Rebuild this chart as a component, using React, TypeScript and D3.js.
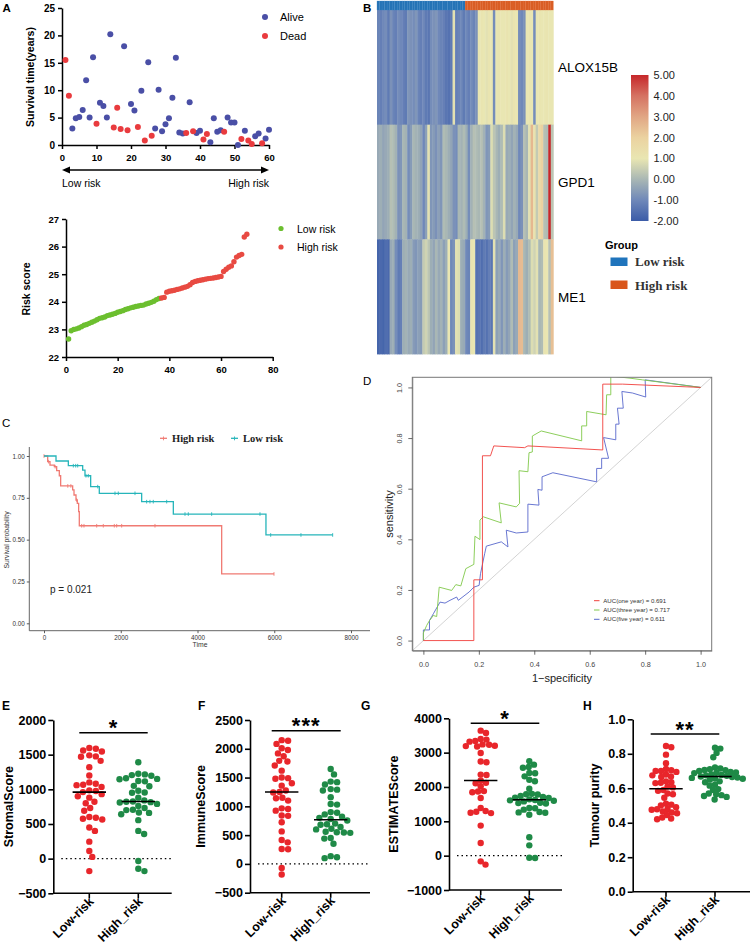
import React, { useEffect, useRef } from 'react';
import * as d3 from 'd3';

const SANS = "'Liberation Sans', Arial, Helvetica, sans-serif";
const SERIF = "'Liberation Serif', 'Times New Roman', serif";

// ---------- A (top): survival status by patient rank
const aliveIdx = [3, 4, 5, 6, 7, 8, 9, 11, 12, 13, 14, 18, 20, 21, 23, 25, 27, 28, 29, 30, 31, 32, 33, 34, 35, 37, 39, 40, 43, 44, 45, 46, 48, 49, 50, 51, 53, 56, 57, 59, 60];
const aliveYears = [3.0, 4.9, 5.1, 6.4, 11.8, 5.0, 16.0, 7.7, 7.1, 5.0, 20.2, 18.0, 7.5, 6.3, 9.9, 15.1, 3.0, 10.1, 2.5, 3.8, 4.9, 8.6, 15.9, 2.3, 2.1, 7.8, 2.2, 2.6, 0.5, 4.9, 2.4, 2.7, 5.0, 4.1, 4.1, 0.0, 2.6, 1.6, 2.1, 1.2, 2.8];
const deadIdx = [1, 2, 10, 15, 16, 17, 19, 22, 24, 26, 36, 38, 41, 42, 47, 52, 54, 55, 58];
const deadYears = [15.5, 9.0, 3.9, 3.2, 6.8, 2.9, 2.7, 3.3, 0.8, 1.7, 2.2, 2.5, 1.0, 2.0, 2.4, 1.1, 0.8, 0.2, 0.3];
const survTicksX = [0, 10, 20, 30, 40, 50, 60];
const survTicksY = [0, 5, 10, 15, 20, 25];

// ---------- A (bottom): risk score
const lowRiskScore = [22.65, 22.95, 23.0, 23.02, 23.05, 23.1, 23.15, 23.18, 23.22, 23.26, 23.3, 23.35, 23.4, 23.42, 23.45, 23.5, 23.52, 23.55, 23.58, 23.62, 23.65, 23.68, 23.72, 23.75, 23.78, 23.8, 23.83, 23.85, 23.87, 23.88, 23.92, 23.95, 23.98, 24.02, 24.08, 24.12];
const highRiskScore = [24.14, 24.16, 24.35, 24.38, 24.4, 24.42, 24.45, 24.47, 24.5, 24.53, 24.56, 24.62, 24.7, 24.74, 24.76, 24.78, 24.8, 24.82, 24.84, 24.85, 24.86, 24.88, 24.9, 24.92, 25.1, 25.18, 25.25, 25.3, 25.45, 25.62, 25.68, 25.72, 26.35, 26.45];
const riskTicksX = [0, 20, 40, 60, 80];
const riskTicksY = [22, 23, 24, 25, 26, 27];

// ---------- B: heatmap (35 low-risk then 35 high-risk samples)
const genes = ['ALOX15B', 'GPD1', 'ME1'];
const lowRiskN = 35;
const alox15b = [-1.1, -1.2, -1.0, -0.9, -1.3, -0.8, -1.1, -1.2, -0.9, -1.0, -1.2, -1.3, -0.7, -0.8, -0.9, -0.7, -1.1, -1.2, -1.0, -1.3, -1.4, -0.9, -0.8, -0.7, -1.0, -1.1, -1.2, -1.4, -1.5, -1.3,
  0.9, -1.2, -1.1, -1.0, -1.3,
  -1.0, -1.2, -0.9, -1.1, -0.8, 1.0, 1.1, 1.0, 0.9, 1.1, 1.0, -0.9, 1.0, 1.1, 1.0, 1.0, 1.1, 1.0, 0.9, 1.1, 1.0, -0.9, -1.0, -0.8, 1.0, 1.1, 1.0, -0.9, 1.0, 1.1, 1.0, 1.0, 1.1, 1.0, 1.0];
const gpd1 = [-0.3, -0.2, -0.4, -0.3, -0.2, 0.2, 0.1, -0.1, -0.8, -0.7, 0.0, -0.1, -0.9, -0.6, 0.0, -0.1, -0.2, -0.4, -1.0, -0.5, 0.9, -0.7, -0.6, -0.8, -0.5, -0.7, 0.1, 0.0, -0.2, -0.4, -0.8, -0.9, 0.0, -0.1, 0.1,
  -0.2, -0.9, -0.1, 0.2, 0.1, 0.0, 0.2, -0.1, -0.7, -0.6, 0.8, 0.3, 0.0, -0.2, 0.1, 0.8, -0.3, -0.2, -0.4, -0.1, -0.3, -1.0, -0.8, 0.2, 0.0, 0.9, 2.6, 1.2, 0.4, 1.6, 2.0, 0.2, 0.1, 5.0, 0.3];
const me1 = [-1.8, -1.7, -1.8, -1.6, -1.7, -0.3, -0.2, -0.9, -1.3, -1.2, -0.2, -0.1, -0.3, -0.2, -0.6, -0.7, -0.5, -0.6, 0.4, 0.6, 0.3, -0.2, -0.4, 0.0, -0.3, -0.1, -0.5, -0.2, 1.0, -1.0, -0.8, 0.9, 0.8, -0.2, -0.3,
  -1.0, -1.1, 1.1, 1.0, -1.5, -1.4, -1.6, -1.3, -1.5, -1.2, -1.4, 0.9, -0.5, -0.3, -0.7, -0.2, -0.6, -0.4, 0.1, -0.5, -0.3, 2.6, 2.5, 0.0, -0.2, 0.1, 0.8, 0.6, 0.9, 0.0, 0.1, 1.1, 1.0, 0.2, 2.4];
const heatStops = [-2, -1, 0, 1, 2, 3, 4, 5];
const heatColors = ['#3b5ca8', '#6f88b9', '#a9b7b4', '#e9e6b2', '#ebd2a0', '#e1a684', '#d57262', '#c6272a'];
const legendTicks = [5, 4, 3, 2, 1, 0, -1, -2];

// ---------- C: Kaplan-Meier
const kmHighTime = [0, 96, 156, 269, 330, 399, 434, 747, 782, 834, 868, 903, 920, 4630, 5993];
const kmHighSurv = [1.0, 0.966, 0.946, 0.936, 0.912, 0.882, 0.821, 0.797, 0.767, 0.737, 0.717, 0.667, 0.583, 0.295, 0.295];
const kmHighCensor = [0, 120, 290, 620, 700, 850, 982, 1042, 1373, 1545, 1832, 1894, 2024, 2892, 5993];
const kmLowTime = [0, 313, 634, 1008, 1068, 1216, 1441, 2545, 3370, 5784, 7522];
const kmLowSurv = [1.0, 0.970, 0.942, 0.916, 0.882, 0.817, 0.777, 0.727, 0.653, 0.528, 0.528];
const kmLowCensor = [764, 826, 878, 1094, 1154, 1400, 1850, 1936, 2371, 2675, 2761, 2848, 3197, 3674, 3760, 4369, 5628, 5907, 6696, 7522];
const kmTicksX = [0, 2000, 4000, 6000, 8000];
const kmTicksY = [0, 0.25, 0.5, 0.75, 1.0];

// ---------- D: time-dependent ROC
const rocOneFpr = [0, 0.182, 0.182, 0.213, 0.213, 0.242, 0.254, 0.365, 0.377, 0.647, 0.647, 0.718, 1.0];
const rocOneTpr = [0, 0, 0.24, 0.24, 0.73, 0.73, 0.769, 0.762, 0.769, 0.753, 1.013, 1.013, 1.0];
const rocThreeFpr = [0, 0, 0.012, 0.022, 0.036, 0.048, 0.057, 0.102, 0.117, 0.135, 0.153, 0.182, 0.186, 0.204, 0.204, 0.216, 0.281, 0.273, 0.335, 0.347, 0.345, 0.377, 0.381, 0.393, 0.393, 0.425, 0.571, 0.571, 0.589, 0.589, 0.659, 0.661, 0.676, 0.676, 0.742, 0.79, 1.0];
const rocThreeTpr = [0, 0.03, 0.06, 0.079, 0.099, 0.095, 0.211, 0.198, 0.221, 0.216, 0.284, 0.301, 0.412, 0.399, 0.476, 0.489, 0.465, 0.544, 0.528, 0.542, 0.671, 0.667, 0.742, 0.745, 0.808, 0.828, 0.789, 0.848, 0.848, 0.905, 0.892, 0.971, 0.971, 1.045, 1.037, 1.03, 1.0];
const rocFiveFpr = [0, 0, 0.022, 0.022, 0.036, 0.06, 0.078, 0.096, 0.12, 0.126, 0.165, 0.182, 0.201, 0.206, 0.221, 0.227, 0.281, 0.305, 0.299, 0.335, 0.377, 0.377, 0.417, 0.413, 0.428, 0.428, 0.467, 0.625, 0.625, 0.643, 0.643, 0.668, 0.65, 0.694, 0.694, 0.706, 0.7, 0.721, 0.716, 0.754, 0.802, 0.8, 1.0];
const rocFiveTpr = [0, 0.042, 0.042, 0.079, 0.106, 0.152, 0.148, 0.159, 0.172, 0.159, 0.192, 0.211, 0.218, 0.264, 0.343, 0.373, 0.39, 0.37, 0.436, 0.425, 0.429, 0.539, 0.535, 0.597, 0.594, 0.647, 0.663, 0.627, 0.68, 0.68, 0.72, 0.72, 0.802, 0.793, 0.855, 0.855, 0.918, 0.918, 0.984, 0.978, 0.962, 1.03, 1.0];
const rocTicks = [0, 0.2, 0.4, 0.6, 0.8, 1.0];
const rocLegend = ['AUC(one year) = 0.691', 'AUC(three year) = 0.717', 'AUC(five year) = 0.611'];
const rocColors = ['#f0403c', '#80c84a', '#5868cc'];

// ---------- E-H: immune/stromal scores
const stromalLow = [1595, 1585, 1560, 1545, 1490, 1475, 1470, 1410, 1320, 1200, 1100, 1080, 1065, 1060, 1035, 985, 975, 960, 930, 900, 880, 820, 800, 730, 690, 600, 590, 575, 565, 450, 400, 245, 110, 25, -180];
const stromalHigh = [1390, 1225, 1215, 1205, 1195, 1160, 1150, 1145, 1120, 1115, 1050, 1045, 980, 955, 950, 880, 840, 825, 820, 815, 810, 790, 760, 730, 705, 700, 665, 660, 640, 555, 400, 355, -35, -145, -180];
const immuneLow = [2150, 2140, 2085, 2010, 1980, 1920, 1870, 1790, 1780, 1710, 1620, 1500, 1490, 1480, 1400, 1360, 1275, 1250, 1240, 1150, 1140, 1100, 965, 955, 925, 840, 835, 725, 565, 415, 375, 260, 255, -70, -185];
const immuneHigh = [1650, 1555, 1430, 1420, 1380, 1300, 1290, 1275, 1160, 1040, 1030, 900, 890, 860, 820, 800, 780, 755, 700, 690, 680, 640, 610, 600, 560, 550, 545, 540, 450, 440, 350, 135, 115, 100];
const estimateLow = [3640, 3570, 3400, 3380, 3340, 3320, 3240, 3230, 3200, 3190, 3180, 2990, 2740, 2720, 2360, 2350, 2190, 2120, 2110, 2020, 1880, 1870, 1845, 1680, 1390, 1300, 1280, 1250, 1240, 875, 370, -165, -260];
const estimateHigh = [2750, 2650, 2580, 2560, 2410, 2400, 2310, 2210, 2165, 1950, 1800, 1790, 1780, 1740, 1710, 1690, 1680, 1640, 1620, 1610, 1600, 1580, 1540, 1530, 1520, 1390, 1380, 1340, 1270, 1260, 1250, 1190, 535, 300, -60, -70];
const purityLow = [0.845, 0.838, 0.795, 0.745, 0.712, 0.705, 0.70, 0.70, 0.695, 0.68, 0.675, 0.668, 0.665, 0.64, 0.635, 0.632, 0.63, 0.61, 0.605, 0.59, 0.585, 0.57, 0.565, 0.545, 0.51, 0.505, 0.50, 0.49, 0.48, 0.478, 0.475, 0.465, 0.46, 0.455, 0.445, 0.43, 0.425, 0.42];
const purityHigh = [0.835, 0.83, 0.805, 0.78, 0.72, 0.715, 0.71, 0.706, 0.705, 0.70, 0.695, 0.692, 0.69, 0.688, 0.68, 0.677, 0.675, 0.672, 0.668, 0.665, 0.662, 0.66, 0.657, 0.655, 0.65, 0.64, 0.635, 0.62, 0.615, 0.595, 0.59, 0.57, 0.565, 0.56, 0.555, 0.55, 0.535];
const groupLabels = ['Low-risk', 'High_risk'];

const scorePanels = [
  { letter: 'E', letterX: 2, title: 'StromalScore', low: stromalLow, high: stromalHigh, domain: [-500, 2000], ticks: [-500, 0, 500, 1000, 1500, 2000], fmt: 'd', stars: '*',
    axisX: 53.3, yTop: 720, yBottom: 893.3, xLow: 89.3, xHigh: 138.3, xEnd: 171.7, sig: [79.3, 147.7], sigY: 732.7, titleX: 13.5, zeroLine: true, spread: 6.6 },
  { letter: 'F', letterX: 198, title: 'ImmuneScore', low: immuneLow, high: immuneHigh, domain: [-500, 2500], ticks: [-500, 0, 500, 1000, 1500, 2000, 2500], fmt: 'd', stars: '***',
    axisX: 250, yTop: 720, yBottom: 892.7, xLow: 281.7, xHigh: 330.7, xEnd: 370, sig: [271.7, 340.7], sigY: 730.7, titleX: 205.5, zeroLine: true, spread: 6.4 },
  { letter: 'G', letterX: 361, title: 'ESTIMATEScore', low: estimateLow, high: estimateHigh, domain: [-1000, 4000], ticks: [-1000, 0, 1000, 2000, 3000, 4000], fmt: 'd', stars: '*',
    axisX: 449, yTop: 718.3, yBottom: 890, xLow: 480.7, xHigh: 529.3, xEnd: 562, sig: [470.7, 539.3], sigY: 723.3, titleX: 398.5, zeroLine: true, spread: 5.8 },
  { letter: 'H', letterX: 583, title: 'Tumour purity', low: purityLow, high: purityHigh, domain: [0, 1], ticks: [0, 0.2, 0.4, 0.6, 0.8, 1.0], fmt: '.1f', stars: '**',
    axisX: 632.7, yTop: 719.3, yBottom: 891.7, xLow: 666, xHigh: 715, xEnd: 750, sig: [650.7, 719.3], sigY: 734, titleX: 598.5, zeroLine: false, spread: 5.4 },
];

function axStyle(g: any, size: number, weight: string, color = '#000', width = 1.5) {
  g.selectAll('text').attr('font-family', SANS).attr('font-size', size).attr('font-weight', weight).attr('fill', color);
  g.selectAll('.tick line').attr('stroke', color).attr('stroke-width', width);
  g.select('.domain').attr('stroke', color).attr('stroke-width', width);
}

function label(svg: any, x: number, y: number, txt: string, size: number, opts: any = {}) {
  const t = svg.append('text').attr('x', x).attr('y', y).text(txt)
    .attr('font-family', opts.family || SANS).attr('font-size', size)
    .attr('font-weight', opts.weight || 'normal').attr('fill', opts.fill || '#000')
    .attr('text-anchor', opts.anchor || 'start');
  if (opts.rotate) t.attr('transform', `rotate(${opts.rotate},${x},${y})`);
  return t;
}

// simple beeswarm: horizontal offsets so dots (nearly) don't overlap
function swarm(ys: number[], diam: number): number[] {
  const order = ys.map((_, i) => i).sort((a, b) => ys[a] - ys[b]);
  const placed: { x: number; y: number }[] = [];
  const xs = new Array(ys.length).fill(0);
  for (const i of order) {
    const py = ys[i];
    const near = placed.filter(p => Math.abs(p.y - py) < diam);
    const cands = [0];
    near.forEach(p => {
      const dx = Math.sqrt(diam * diam - (p.y - py) ** 2);
      cands.push(p.x + dx, p.x - dx);
    });
    cands.sort((a, b) => Math.abs(a) - Math.abs(b));
    const best = cands.find(c => near.every(p => (p.x - c) ** 2 + (p.y - py) ** 2 >= diam * diam - 0.01)) ?? 0;
    xs[i] = best;
    placed.push({ x: best, y: py });
  }
  return xs;
}

function drawSurvival(svg: any) {
  const x = d3.scaleLinear().domain([0, 60]).range([62, 269]);
  const y = d3.scaleLinear().domain([0, 25]).range([145, 8]);
  svg.append('g').attr('transform', 'translate(62,0)')
    .call(d3.axisLeft(y).tickValues(survTicksY).tickSize(4).tickSizeOuter(0).tickPadding(3))
    .call(axStyle, 10, 'bold');
  svg.append('g').attr('transform', 'translate(0,145)')
    .call(d3.axisBottom(x).tickValues(survTicksX).tickSize(4).tickSizeOuter(0).tickPadding(5))
    .call(axStyle, 9.5, 'bold');
  svg.append('g').selectAll('circle').data(aliveIdx).enter().append('circle')
    .attr('cx', (d: number) => x(d)).attr('cy', (_: number, i: number) => y(aliveYears[i])).attr('r', 3).attr('fill', '#4a4fa6');
  svg.append('g').selectAll('circle').data(deadIdx).enter().append('circle')
    .attr('cx', (d: number) => x(d)).attr('cy', (_: number, i: number) => y(deadYears[i])).attr('r', 3).attr('fill', '#e93b3e');
  label(svg, 34, 77, 'Survival time(years)', 10.5, { weight: 'bold', anchor: 'middle', rotate: -90 });
  // legend
  svg.append('circle').attr('cx', 265).attr('cy', 17).attr('r', 3).attr('fill', '#4a4fa6');
  label(svg, 280, 21, 'Alive', 11);
  svg.append('circle').attr('cx', 265).attr('cy', 36).attr('r', 3).attr('fill', '#e93b3e');
  label(svg, 280, 40, 'Dead', 11);
  // risk arrow
  const ay = 170;
  svg.append('line').attr('x1', x(0) + 4).attr('x2', x(60) - 4).attr('y1', ay).attr('y2', ay).attr('stroke', '#000').attr('stroke-width', 1.3);
  svg.append('path').attr('d', `M${x(0)},${ay} l8,-3.5 l0,7 z`).attr('fill', '#000');
  svg.append('path').attr('d', `M${x(60)},${ay} l-8,-3.5 l0,7 z`).attr('fill', '#000');
  label(svg, x(0), 187, 'Low risk', 10.5);
  label(svg, x(60), 187, 'High risk', 10.5, { anchor: 'end' });
  label(svg, 2.5, 11.7, 'A', 11.5, { weight: 'bold' });
}

function drawRisk(svg: any) {
  const x = d3.scaleLinear().domain([0, 80]).range([66, 272.7]);
  const y = d3.scaleLinear().domain([22, 27]).range([357, 219]);
  svg.append('g').attr('transform', 'translate(66,0)')
    .call(d3.axisLeft(y).tickValues(riskTicksY).tickFormat(d3.format('d')).tickSize(4).tickSizeOuter(0).tickPadding(3))
    .call(axStyle, 9.5, 'bold');
  svg.append('g').attr('transform', 'translate(0,357)')
    .call(d3.axisBottom(x).tickValues(riskTicksX).tickFormat(d3.format('d')).tickSize(4).tickSizeOuter(0).tickPadding(5))
    .call(axStyle, 9.5, 'bold');
  svg.append('g').selectAll('circle').data(lowRiskScore).enter().append('circle')
    .attr('cx', (_: number, i: number) => x(i + 1)).attr('cy', (d: number) => y(d)).attr('r', 2.7).attr('fill', '#6cbf2f');
  svg.append('g').selectAll('circle').data(highRiskScore).enter().append('circle')
    .attr('cx', (_: number, i: number) => x(lowRiskScore.length + i + 1)).attr('cy', (d: number) => y(d)).attr('r', 2.7).attr('fill', '#e84a42');
  label(svg, 30, 289, 'Risk score', 10.5, { weight: 'bold', anchor: 'middle', rotate: -90 });
  svg.append('circle').attr('cx', 281).attr('cy', 228.5).attr('r', 2.6).attr('fill', '#6cbf2f');
  label(svg, 297, 232.5, 'Low risk', 10.5);
  svg.append('circle').attr('cx', 281).attr('cy', 247).attr('r', 2.6).attr('fill', '#e84a42');
  label(svg, 297, 251, 'High risk', 10.5);
}

function drawHeatmap(svg: any) {
  const rows = [alox15b, gpd1, me1];
  const n = alox15b.length;
  const x = d3.scaleLinear().domain([0, n]).range([377, 553.3]);
  const y = d3.scaleLinear().domain([0, 3]).range([10, 354]);
  const color = d3.scaleLinear<string>().domain(heatStops).range(heatColors).interpolate(d3.interpolateRgb);
  const cw = x(1) - x(0);
  const g = svg.append('g');
  rows.forEach((vals, r) => {
    g.append('g').selectAll('rect').data(vals).enter().append('rect')
      .attr('x', (_: number, i: number) => x(i)).attr('width', cw + 0.4)
      .attr('y', y(r)).attr('height', y(r + 1) - y(r) + 0.4)
      .attr('fill', (d: number) => color(d));
    label(svg, 558, (y(r) + y(r + 1)) / 2 + 5, genes[r], 13.5);
  });
  // group annotation bar
  g.append('g').selectAll('rect').data(d3.range(n)).enter().append('rect')
    .attr('x', (i: number) => x(i)).attr('width', cw).attr('y', 1).attr('height', 9)
    .attr('fill', (i: number) => (i < lowRiskN ? '#2473b6' : '#d95d24'))
    .attr('stroke', (i: number) => (i < lowRiskN ? '#3a82c0' : '#e06a34')).attr('stroke-width', 0.3);
  // colour legend
  const ly = d3.scaleLinear().domain([5, -2]).range([75, 221]);
  const defs = svg.append('defs');
  const grad = defs.append('linearGradient').attr('id', 'heatgrad').attr('x1', '0%').attr('y1', '0%').attr('x2', '0%').attr('y2', '100%');
  legendTicks.forEach(v => {
    grad.append('stop').attr('offset', `${((5 - v) / 7) * 100}%`).attr('stop-color', color(v));
  });
  svg.append('rect').attr('x', 631).attr('y', ly(5)).attr('width', 17.5).attr('height', ly(-2) - ly(5)).attr('fill', 'url(#heatgrad)');
  legendTicks.forEach(v => {
    label(svg, 653.5, ly(v) + 4, v.toFixed(2), 11, { fill: '#222' });
  });
  label(svg, 605, 249, 'Group', 11, { weight: 'bold' });
  svg.append('rect').attr('x', 610.5).attr('y', 257.5).attr('width', 17).attr('height', 8.5).attr('fill', '#1f74bc');
  label(svg, 635, 266, 'Low risk', 13, { family: SERIF, weight: 'bold', fill: '#333' });
  svg.append('rect').attr('x', 610.5).attr('y', 280.5).attr('width', 17).attr('height', 8.5).attr('fill', '#d9561c');
  label(svg, 635, 289.5, 'High risk', 13, { family: SERIF, weight: 'bold', fill: '#333' });
  label(svg, 363, 11.7, 'B', 11.5, { weight: 'bold' });
}

function drawKM(svg: any) {
  const x = d3.scaleLinear().domain([0, 8000]).range([44, 351]);
  const y = d3.scaleLinear().domain([0, 1]).range([623.3, 456]);
  const axCol = '#555';
  svg.append('line').attr('x1', 29.3).attr('x2', 29.3).attr('y1', 447).attr('y2', 630.7).attr('stroke', axCol).attr('stroke-width', 0.9);
  svg.append('line').attr('x1', 29.3).attr('x2', 370).attr('y1', 630.7).attr('y2', 630.7).attr('stroke', axCol).attr('stroke-width', 0.9);
  const gy = svg.append('g').attr('transform', 'translate(29.3,0)')
    .call(d3.axisLeft(y).tickValues(kmTicksY).tickFormat(d3.format('.2f')).tickSize(2.5).tickSizeOuter(0).tickPadding(2));
  gy.select('.domain').remove();
  axStyle(gy, 6.3, 'normal', '#333', 0.8);
  const gx = svg.append('g').attr('transform', 'translate(0,630.7)')
    .call(d3.axisBottom(x).tickValues(kmTicksX).tickFormat(d3.format('d')).tickSize(2.5).tickSizeOuter(0).tickPadding(2));
  gx.select('.domain').remove();
  axStyle(gx, 6.3, 'normal', '#333', 0.8);
  label(svg, 200, 647, 'Time', 6.8, { anchor: 'middle', fill: '#333' });
  label(svg, 9, 540, 'Survival probability', 6.8, { anchor: 'middle', rotate: -90, fill: '#333' });

  const curves = [
    { t: kmHighTime, s: kmHighSurv, c: kmHighCensor, col: '#f07a73' },
    { t: kmLowTime, s: kmLowSurv, c: kmLowCensor, col: '#26b5ba' },
  ];
  curves.forEach(cv => {
    const pts: [number, number][] = cv.t.map((t, i) => [x(t), y(cv.s[i])]);
    svg.append('path').attr('d', d3.line().curve(d3.curveStepAfter)(pts)).attr('fill', 'none').attr('stroke', cv.col).attr('stroke-width', 1.3);
    cv.c.forEach(ct => {
      let s = cv.s[0];
      cv.t.forEach((t, i) => { if (t <= ct) s = cv.s[i]; });
      svg.append('line').attr('x1', x(ct)).attr('x2', x(ct)).attr('y1', y(s) - 1.8).attr('y2', y(s) + 1.8).attr('stroke', cv.col).attr('stroke-width', 0.9);
    });
  });
  label(svg, 50, 592.5, 'p = 0.021', 10, { fill: '#222' });
  // legend
  const legend = [
    { name: 'High risk', col: '#f07a73', x: 160 },
    { name: 'Low risk', col: '#26b5ba', x: 231 },
  ];
  legend.forEach(l => {
    svg.append('line').attr('x1', l.x).attr('x2', l.x + 7).attr('y1', 438.3).attr('y2', 438.3).attr('stroke', l.col).attr('stroke-width', 1.3);
    svg.append('line').attr('x1', l.x + 3.5).attr('x2', l.x + 3.5).attr('y1', 436.5).attr('y2', 440.3).attr('stroke', l.col).attr('stroke-width', 0.9);
    label(svg, l.x + 12, 441.8, l.name, 10.5, { family: SERIF, weight: 'bold', fill: '#222' });
  });
  label(svg, 2, 427, 'C', 11.5, { weight: 'normal' });
}

function drawROC(svg: any) {
  const x = d3.scaleLinear().domain([-0.04, 1.04]).range([412.3, 711.7]);
  const y = d3.scaleLinear().domain([-0.04, 1.04]).range([650.7, 377.3]);
  const defs = svg.append('defs');
  defs.append('clipPath').attr('id', 'rocclip').append('rect')
    .attr('x', x(-0.04)).attr('y', y(1.04)).attr('width', x(1.04) - x(-0.04)).attr('height', y(-0.04) - y(1.04));
  const plot = svg.append('g').attr('clip-path', 'url(#rocclip)');
  plot.append('line').attr('x1', x(-0.04)).attr('y1', y(-0.04)).attr('x2', x(1.04)).attr('y2', y(1.04)).attr('stroke', '#c8c8c8').attr('stroke-width', 0.8);
  const series = [
    { f: rocOneFpr, t: rocOneTpr },
    { f: rocThreeFpr, t: rocThreeTpr },
    { f: rocFiveFpr, t: rocFiveTpr },
  ];
  const line = d3.line<number[]>().x(d => x(d[0])).y(d => y(d[1]));
  [2, 1, 0].forEach(k => {
    const s = series[k];
    plot.append('path').attr('d', line(s.f.map((f, i) => [f, s.t[i]]))).attr('fill', 'none').attr('stroke', rocColors[k]).attr('stroke-width', 0.9);
  });
  svg.append('rect').attr('x', x(-0.04)).attr('y', y(1.04)).attr('width', x(1.04) - x(-0.04)).attr('height', y(-0.04) - y(1.04))
    .attr('fill', 'none').attr('stroke', '#777').attr('stroke-width', 1);
  const gx = svg.append('g').attr('transform', `translate(0,${y(-0.04)})`)
    .call(d3.axisBottom(x).tickValues(rocTicks).tickFormat(d3.format('.1f')).tickSize(4).tickSizeOuter(0).tickPadding(7));
  axStyle(gx, 7.2, 'normal', '#444', 0.8);
  gx.select('.domain').attr('stroke', '#777');
  const gy = svg.append('g').attr('transform', `translate(${x(-0.04)},0)`)
    .call(d3.axisLeft(y).tickValues(rocTicks).tickFormat(d3.format('.1f')).tickSize(4).tickSizeOuter(0).tickPadding(7));
  axStyle(gy, 7.2, 'normal', '#444', 0.8);
  gy.select('.domain').attr('stroke', '#777');
  gy.selectAll('text').attr('text-anchor', 'middle').attr('x', 0).attr('dy', null)
    .attr('transform', 'translate(-10.8,0) rotate(-90)');
  label(svg, 392.5, y(0.5), 'sensitivity', 11, { anchor: 'middle', rotate: -90, fill: '#222' });
  label(svg, (x(-0.04) + x(1.04)) / 2, 682, '1\u2212specificity', 11, { anchor: 'middle', fill: '#222' });
  rocLegend.forEach((txt, i) => {
    const ly = 600.7 + i * 9.3;
    svg.append('line').attr('x1', 594).attr('x2', 599.5).attr('y1', ly).attr('y2', ly).attr('stroke', rocColors[i]).attr('stroke-width', 1);
    label(svg, 603.3, ly + 2.1, txt, 6.1, { fill: '#333' });
  });
  label(svg, 363, 385, 'D', 11.5, { weight: 'normal' });
}

function drawScore(svg: any, p: any) {
  const y = d3.scaleLinear().domain(p.domain).range([p.yBottom, p.yTop]);
  const g = svg.append('g');
  const fmt = d3.format(p.fmt);
  g.append('g').attr('transform', `translate(${p.axisX},0)`)
    .call(d3.axisLeft(y).tickValues(p.ticks).tickFormat((d: any) => fmt(d)).tickSize(5).tickSizeOuter(0).tickPadding(2))
    .call(axStyle, 12.5, 'bold', '#000', 1.6);
  g.append('line').attr('x1', p.axisX).attr('x2', p.xEnd).attr('y1', p.yBottom).attr('y2', p.yBottom).attr('stroke', '#000').attr('stroke-width', 1.6);
  const xs = [p.xLow, p.xHigh];
  xs.forEach((tx: number, k: number) => {
    g.append('line').attr('x1', tx).attr('x2', tx).attr('y1', p.yBottom).attr('y2', p.yBottom + 5).attr('stroke', '#000').attr('stroke-width', 1.6);
    g.append('text').attr('transform', `translate(${tx + 5},${p.yBottom + 9}) rotate(-45)`)
      .attr('text-anchor', 'end').attr('font-family', SANS).attr('font-size', 12.5).attr('font-weight', 'bold').text(groupLabels[k]);
  });
  if (p.zeroLine) {
    g.append('line').attr('x1', p.axisX + 8).attr('x2', p.xEnd).attr('y1', y(0)).attr('y2', y(0))
      .attr('stroke', '#000').attr('stroke-width', 1.2).attr('stroke-dasharray', '1.5,3');
  }
  const groups = [
    { vals: p.low as number[], x: p.xLow, col: '#e8262b' },
    { vals: p.high as number[], x: p.xHigh, col: '#1f8a47' },
  ];
  groups.forEach(gr => {
    const ys = gr.vals.map(v => y(v));
    const offs = swarm(ys, p.spread);
    g.append('g').selectAll('circle').data(gr.vals).enter().append('circle')
      .attr('cx', (_: number, i: number) => gr.x + offs[i]).attr('cy', (_: number, i: number) => ys[i]).attr('r', 3.2).attr('fill', gr.col);
    const med = d3.median(gr.vals) as number;
    g.append('line').attr('x1', gr.x - 16.7).attr('x2', gr.x + 16.7).attr('y1', y(med)).attr('y2', y(med)).attr('stroke', '#000').attr('stroke-width', 1.6);
  });
  g.append('line').attr('x1', p.sig[0]).attr('x2', p.sig[1]).attr('y1', p.sigY).attr('y2', p.sigY).attr('stroke', '#000').attr('stroke-width', 1.6);
  label(svg, (p.sig[0] + p.sig[1]) / 2, p.sigY + 2.5, p.stars, 22, { weight: 'bold', anchor: 'middle' })
    .attr('letter-spacing', 1);
  label(svg, p.titleX, (p.yTop + p.yBottom) / 2, p.title, 12.5, { weight: 'bold', anchor: 'middle', rotate: -90 });
  label(svg, p.letterX, 710, p.letter, 12, { weight: 'bold' });
}

const App: React.FC = () => {
  const svgRef = useRef<SVGSVGElement>(null);
  useEffect(() => {
    const svg = d3.select(svgRef.current);
    svg.selectAll('*').remove();
    drawSurvival(svg);
    drawRisk(svg);
    drawHeatmap(svg);
    drawKM(svg);
    drawROC(svg);
    scorePanels.forEach(p => drawScore(svg, p));
  }, []);
  return (
    <svg ref={svgRef} width={750} height={949}
      style={{ position: 'absolute', left: 0, top: 0, background: '#fff', display: 'block' }} />
  );
};

export default App;
